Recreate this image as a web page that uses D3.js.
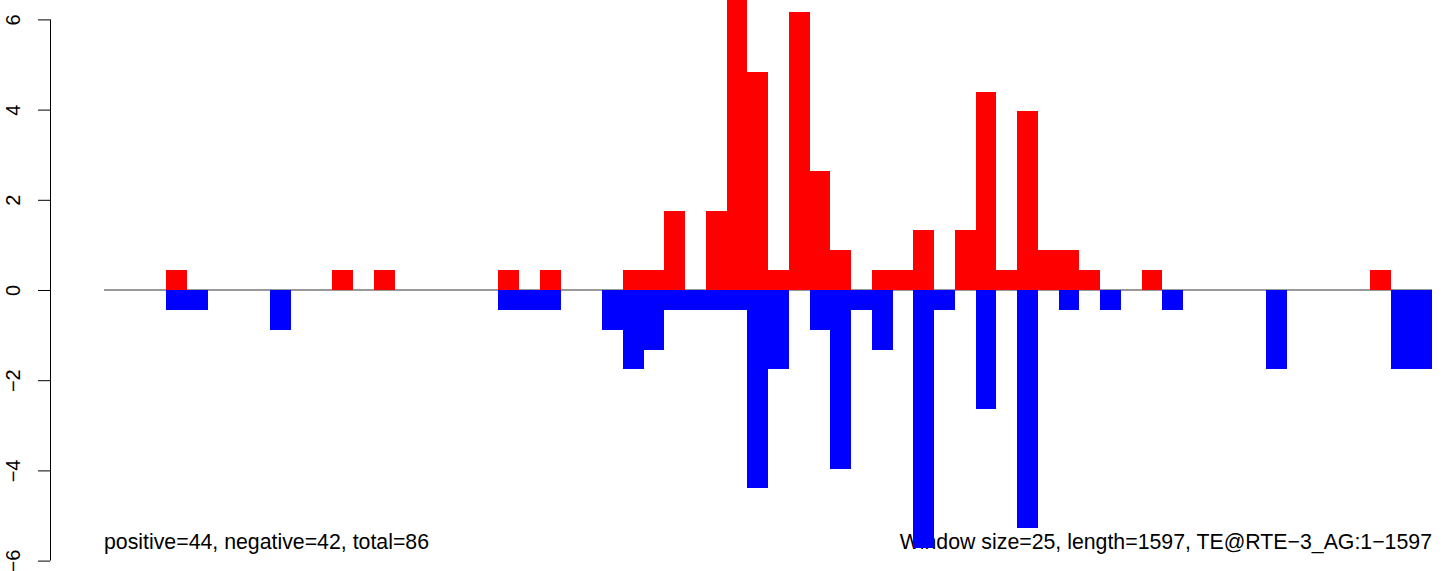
<!DOCTYPE html>
<html>
<head>
<meta charset="utf-8">
<script src="https://cdn.jsdelivr.net/npm/d3@7/dist/d3.min.js"></script>
<style>
  html, body { margin: 0; padding: 0; background: #fff; }
  svg { display: block; }
  text { font-family: "Liberation Sans", Arial, Helvetica, sans-serif; }
</style>
</head>
<body>
<svg id="chart" width="1444" height="571"></svg>
<script>
// window index (0..63), window size 25 over length 1597
const windows = d3.range(64);
// positive (red) values per window
const positive = [
  0, 0, 0, 0.44, 0, 0, 0, 0, 0, 0,
  0, 0.44, 0, 0.44, 0, 0, 0, 0, 0, 0.44,
  0, 0.44, 0, 0, 0, 0.44, 0.44, 1.76, 0, 1.76,
  6.6, 4.84, 0.44, 6.16, 2.64, 0.88, 0, 0.44, 0.44, 1.32,
  0, 1.32, 4.4, 0.44, 3.96, 0.88, 0.88, 0.44, 0, 0,
  0.44, 0, 0, 0, 0, 0, 0, 0, 0, 0,
  0, 0.44, 0, 0
];
// negative (blue) values per window
const negative = [
  0, 0, 0, -0.44, -0.44, 0, 0, 0, -0.88, 0,
  0, 0, 0, 0, 0, 0, 0, 0, 0, -0.44,
  -0.44, -0.44, 0, 0, -0.88, -1.76, -1.32, -0.44, -0.44, -0.44,
  -0.44, -4.4, -1.76, 0, -0.88, -3.96, -0.44, -1.32, 0, -5.72,
  -0.44, 0, -2.64, 0, -5.28, 0, -0.44, 0, -0.44, 0,
  0, -0.44, 0, 0, 0, 0, -1.76, 0, 0, 0,
  0, 0, -1.76, -1.76
];
const yTicks = [-6, -4, -2, 0, 2, 4, 6];
const leftLabel = "positive=44, negative=42, total=86";
const rightLabel = "Window size=25, length=1597, TE@RTE\u22123_AG:1\u22121597";

const svg = d3.select("#chart");
const x = d3.scaleLinear().domain([0, windows.length]).range([104, 1432]);
const y = d3.scaleLinear().domain([-6, 6]).range([560.6, 19.4]);

// clip region
svg.append("defs").append("clipPath").attr("id", "plotclip")
  .append("rect").attr("x", 0).attr("y", 0).attr("width", 1444).attr("height", 571);

// y axis (R style)
const axis = d3.axisLeft(y).tickValues(yTicks).tickSize(12).tickPadding(0)
  .tickFormat(d => d < 0 ? "\u2212" + Math.abs(d) : String(d));
const ag = svg.append("g").attr("transform", "translate(50,0)").call(axis);
ag.select(".domain").attr("stroke", "#000").attr("stroke-width", 1)
  .attr("d", `M0.5,${y(-6)}V${y(6)}`);
ag.selectAll(".tick line").attr("stroke", "#000").attr("stroke-width", 1);
ag.selectAll(".tick text")
  .attr("x", 0).attr("dy", 0)
  .attr("transform", "translate(-30,0) rotate(-90)")
  .attr("text-anchor", "middle")
  .attr("font-size", 20)
  .attr("fill", "#000")
  .attr("font-family", "'Liberation Sans', Arial, sans-serif");

// bottom texts
svg.append("text").attr("x", 104).attr("y", 549)
  .attr("font-size", 21.3).attr("fill", "#000").text(leftLabel);
svg.append("text").attr("x", 1432).attr("y", 549).attr("text-anchor", "end")
  .attr("font-size", 21.3).attr("fill", "#000").text(rightLabel);

// zero baseline
svg.append("line").attr("x1", x(0)).attr("x2", x(windows.length))
  .attr("y1", y(0)).attr("y2", y(0))
  .attr("stroke", "#777").attr("stroke-width", 1.3);

const g = svg.append("g").attr("clip-path", "url(#plotclip)");
g.selectAll("rect.pos").data(windows.filter(i => positive[i] > 0)).enter()
  .append("rect").attr("class", "pos")
  .attr("x", i => x(i)).attr("width", i => x(i + 1) - x(i))
  .attr("y", i => y(positive[i])).attr("height", i => y(0) - y(positive[i]))
  .attr("fill", "#ff0000").attr("shape-rendering", "crispEdges");
g.selectAll("rect.neg").data(windows.filter(i => negative[i] < 0)).enter()
  .append("rect").attr("class", "neg")
  .attr("x", i => x(i)).attr("width", i => x(i + 1) - x(i))
  .attr("y", y(0)).attr("height", i => y(negative[i]) - y(0))
  .attr("fill", "#0000ff").attr("shape-rendering", "crispEdges");
</script>
</body>
</html>
